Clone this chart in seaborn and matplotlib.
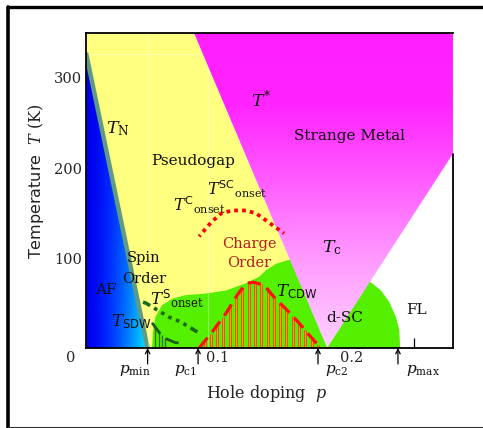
import numpy as np
import pandas as pd
import seaborn as sns
import matplotlib
matplotlib.use("Agg")
import matplotlib.pyplot as plt
from matplotlib.patches import Polygon
from matplotlib.lines import Line2D
import matplotlib.transforms as mtransforms

# ---------------- data (hole doping p, temperature T in K) ----------------
p_TN = [0.0, 0.047]
T_TN = [328, 0]
p_Tstar = [0.0824, 0.184]
T_Tstar = [350, 0]
p_Vright = [0.184, 0.28]
T_Vright = [0, 216]
p_dome = [0.0504, 0.0512, 0.053, 0.058, 0.066, 0.076, 0.0916, 0.107, 0.122,
          0.132, 0.137, 0.145, 0.155, 0.175, 0.20, 0.217, 0.225, 0.2313,
          0.2364, 0.239, 0.2397]
T_dome = [0, 20, 34.7, 47.6, 55, 58.7, 60.5, 64, 72, 79, 86, 93.6, 98, 100,
          90, 73.4, 64, 51.3, 34.7, 20, 0]
p_cdw = [0.0863, 0.0962, 0.1069, 0.1153, 0.1221, 0.1282, 0.1359, 0.1435,
         0.1534, 0.1626, 0.1702, 0.1779]
T_cdw = [0, 17.7, 38.8, 58.7, 72, 73, 69.8, 56.5, 42, 27.7, 14.4, 2]
p_onsetC = [0.0863, 0.0954, 0.103, 0.1115, 0.1221, 0.1298, 0.1374, 0.1458, 0.1511]
T_onsetC = [124, 139.5, 149.5, 152.8, 152.8, 149.5, 141.7, 132.9, 127.4]
p_onsetS = [0.0435, 0.0458, 0.0634, 0.0725, 0.0863]
T_onsetS = [51, 49.8, 34.3, 28.8, 16.6]
p_sdw = [0.0504, 0.0565, 0.0615, 0.068, 0.075]
T_sdw = [28, 16, 10, 6, 5]
p_marks = [0.047, 0.0855, 0.177, 0.238]
mark_names = ["min", "c1", "c2", "max"]
xticks = [0.05, 0.10, 0.15, 0.20, 0.25]
xticklabels = ["", "0.1", "", "0.2", ""]
yticks = [0, 100, 200, 300]
yticklabels = ["0", "100", "200", "300"]

# ---------------- style ----------------
sns.set_theme(style="white")
plt.rcParams["font.family"] = ["DejaVu Serif", "DejaVu Sans"]
plt.rcParams["mathtext.fontset"] = "custom"
plt.rcParams["mathtext.rm"] = "DejaVu Serif"
plt.rcParams["mathtext.it"] = "DejaVu Serif:italic"
plt.rcParams["mathtext.bf"] = "DejaVu Serif:bold"
plt.rcParams["mathtext.sf"] = "DejaVu Sans"

fig = plt.figure(figsize=(4.83, 4.28), dpi=100)
ax = fig.add_axes([86 / 483, 80 / 428, 367 / 483, 315 / 428])
ax.set_facecolor("white")
XMAX, YMAX = 0.28, 350

# pseudogap (yellow)
yellow = Polygon([(0, YMAX), (p_Tstar[0], T_Tstar[0]), (p_Tstar[1], T_Tstar[1]), (0, 0)],
                 closed=True, facecolor="#ffff80", edgecolor="none", zorder=1.0)
ax.add_patch(yellow)
# faint seams
for gp in [0.047, 0.093]:
    ax.plot([gp, gp], [0, YMAX], color="white", alpha=0.35, lw=0.8, zorder=1.45)
ax.plot([0, XMAX], [327, 327], color="white", alpha=0.35, lw=0.8, zorder=1.05)

# AF (blue gradient, darker to the upper left, cyan to the lower right)
af_poly = Polygon([(0, 0), (0, T_TN[0]), (p_TN[1], 0)], closed=True,
                  facecolor="none", edgecolor="none", transform=ax.transData)
ax.add_patch(af_poly)
gx = np.linspace(0, 1, 200)[None, :]
gy = np.linspace(0, 1, 200)[:, None]
blue = np.zeros((200, 200, 3))
blue[:, :, 1] = np.clip(0.93 * gx ** 1.6 * (1 - 0.35 * gy), 0, 1)
blue[:, :, 2] = np.clip(0.90 + 0.3 * gx, 0, 1) * np.ones_like(gy)
im = ax.imshow(blue, extent=[0, p_TN[1], 0, T_TN[0]], origin="lower", aspect="auto",
               interpolation="bilinear", zorder=1.2)
im.set_clip_path(af_poly)

# SC dome (green)
green = Polygon(list(zip(p_dome, T_dome)), closed=True, facecolor="#55f000",
                edgecolor="none", zorder=1.4)
ax.add_patch(green)

# strange metal V (magenta gradient)
v_poly = Polygon([(p_Tstar[0], YMAX), (XMAX, YMAX), (p_Vright[1], T_Vright[1]),
                  (p_Vright[0], T_Vright[0])], closed=True, facecolor="none",
                 edgecolor="none", transform=ax.transData)
ax.add_patch(v_poly)
ts = np.linspace(0, YMAX, 256)
mag = np.ones((256, 1, 3))
mag[:, 0, 1] = np.interp(ts, [0, 100, 200, 270, 350], [0.82, 0.60, 0.32, 0.14, 0.12])
im2 = ax.imshow(mag, extent=[p_Tstar[0], XMAX, 0, YMAX], origin="lower", aspect="auto",
                interpolation="bilinear", zorder=1.5)
im2.set_clip_path(v_poly)

# T_N line
sns.lineplot(x=p_TN, y=T_TN, ax=ax, color="#5f9a86", lw=3.2, sort=False,
             estimator=None, zorder=1.3)

# CDW hatch
hatch_p = np.arange(0.0905, p_cdw[-1], 0.0048)
hatch_T = np.interp(hatch_p, p_cdw, T_cdw)
ax.vlines(hatch_p, 0, hatch_T, color="#ff2a00", lw=1.9, zorder=2.0)
ax.vlines(hatch_p, 0, hatch_T, color="#ffa000", lw=0.9, zorder=2.05)

# T_CDW dashed
sns.lineplot(x=p_cdw, y=T_cdw, ax=ax, color="#ff1010", lw=2.3, sort=False,
             estimator=None, zorder=3, linestyle=(0, (4.2, 2.2)))
# onset C/SC dotted red
sns.lineplot(x=p_onsetC, y=T_onsetC, ax=ax, color="#ff0000", lw=2.7, sort=False,
             estimator=None, zorder=3, linestyle=(0.5, (1.0, 1.1)))
# onset S dotted dark green
sns.lineplot(x=p_onsetS, y=T_onsetS, ax=ax, color="#1d6a1d", lw=2.6, sort=False,
             estimator=None, zorder=3, linestyle=(0, (2.2, 1.3, 1, 1.3, 1, 1.3, 1, 1.3, 1, 1.3, 1, 1.3)))
# T_SDW
sns.lineplot(x=p_sdw, y=T_sdw, ax=ax, color="#1d5a1d", lw=2.0, sort=False,
             estimator=None, zorder=3, linestyle=(0, (5, 2.5)))
sdw_hp = np.arange(0.053, 0.062, 0.0025)
ax.vlines(sdw_hp, 0, np.interp(sdw_hp, p_sdw, T_sdw), color="#2a7a10", lw=1.0, zorder=2.5)

for ln in ax.lines:
    ln.set_dash_capstyle("butt")
    ln.set_solid_capstyle("butt")

# ---------------- axes ----------------
ax.set_xlim(0, XMAX)
ax.set_ylim(0, YMAX)
ax.set_xticks(xticks)
ax.set_xticklabels(xticklabels)
ax.set_yticks(yticks)
ax.set_yticklabels(yticklabels)
ax.tick_params(axis="x", direction="in", length=7.5, width=0.9, color="black",
               labelsize=10.5, pad=2.5, bottom=True, top=False)
ax.tick_params(axis="y", direction="in", length=0, labelsize=10.5, pad=3, left=True)
for lab in ax.get_yticklabels():
    if lab.get_text() == "0":
        lab.set_transform(lab.get_transform() +
                          mtransforms.ScaledTranslation(-6 / 100, -8 / 100, fig.dpi_scale_trans))
for lab in ax.get_xticklabels():
    if lab.get_text() == "0.2":
        lab.set_transform(lab.get_transform() +
                          mtransforms.ScaledTranslation(3 / 100, 0, fig.dpi_scale_trans))
for s in ["left", "top", "bottom"]:
    ax.spines[s].set_visible(True)
    ax.spines[s].set_color("black")
    ax.spines[s].set_linewidth(1.3)
    ax.spines[s].set_zorder(4)
ax.spines["right"].set_visible(False)
ax.plot([XMAX, XMAX], [T_Vright[0], T_Vright[1]], color="black", lw=1.3,
        clip_on=False, zorder=4)
ax.grid(False)

ax.set_xlabel(r"Hole doping  $p$", fontsize=11.5, color="#222222")
ax.xaxis.label.set_va("center")
ax.xaxis.set_label_coords((267 - 86) / 367, -(393 - 348) / 315)
ax.set_ylabel(r"Temperature  $T$ $\mathrm{(K)}$", fontsize=11.5, color="#222222",
              fontfamily="DejaVu Sans")
ax.yaxis.label.set_va("center")
ax.yaxis.set_label_coords((36.5 - 86) / 367, (348 - 181.5) / 315)

# arrows and p labels
mark_offsets = {"min": (2.5, "right"), "c1": (-1.0, "right"), "c2": (5, "left"), "max": (5.5, "left")}
for pm, nm in zip(p_marks, mark_names):
    ax.annotate("", xy=(pm, 0), xycoords="data", xytext=(0, -11.5),
                textcoords="offset points", annotation_clip=False,
                arrowprops=dict(arrowstyle="->", lw=0.9, color="black",
                                shrinkA=0, shrinkB=0, mutation_scale=8))
    dx, ha = mark_offsets[nm]
    ax.annotate(r"$p_{\mathrm{%s}}$" % nm, xy=(pm, 0), xycoords="data",
                xytext=(dx, -10.5), textcoords="offset points", ha=ha, va="top",
                fontsize=11, annotation_clip=False, color="#111111")

# ---------------- labels ----------------
tc = "#111111"
def lab(x, y, s, size=11, color=tc, **kw):
    ax.text(x, y, s, fontsize=size, color=color, ha="center", va="center", zorder=6, **kw)

lab(0.2008, 236, "Strange Metal")
lab(0.082, 208, "Pseudogap")
lab(0.134, 275, r"$T^{*}$", size=12.5)
lab(0.024, 244, r"$T_{\mathrm{N}}$", size=12.5)
lab(0.1244, 116, "Charge", size=10.5, color="#b01e1e")
lab(0.1244, 94, "Order", size=10.5, color="#b01e1e")
lab(0.188, 112, r"$T_{\mathrm{c}}$", size=12.5)
lab(0.0439, 100, "Spin", size=10.5)
lab(0.0443, 76.5, "Order", size=10.5)
lab(0.0153, 64, "AF", size=11)
lab(0.0695, 55, r"$T^{\mathsf{S}}{}_{\mathrm{onset}}$", size=12)
lab(0.0347, 29, r"$T_{\mathsf{SDW}}$", size=12)
lab(0.161, 62.6, r"$T_{\mathsf{CDW}}$", size=12)
lab(0.0868, 158, r"$T^{\mathsf{C}}{}_{\mathrm{onset}}$", size=11.5)
lab(0.1150, 176, r"$T^{\mathsf{SC}}{}_{\mathrm{onset}}$", size=11.5)
lab(0.197, 33, "d-SC", size=11)
lab(0.2523, 42, "FL", size=11)

# outer frame
fig.add_artist(Line2D([8 / 483, 1.0], [1 - 7 / 428, 1 - 7 / 428], color="black", lw=2.4,
                      transform=fig.transFigure))
fig.add_artist(Line2D([8 / 483, 8 / 483], [0.0, 1 - 7 / 428], color="black", lw=2.6,
                      transform=fig.transFigure))
fig.add_artist(Line2D([8 / 483, 1.0], [1.2 / 428, 1.2 / 428], color="#333333", lw=0.8,
                      transform=fig.transFigure))

fig.savefig("out.png", dpi=100)
